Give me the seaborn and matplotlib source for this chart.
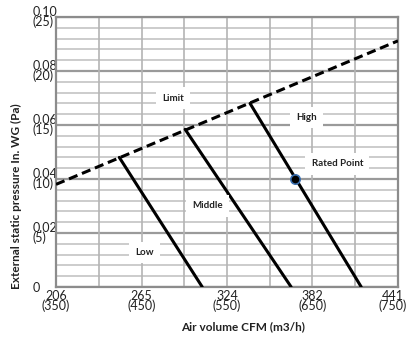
import matplotlib
matplotlib.use("Agg")
import matplotlib.pyplot as plt
import matplotlib.transforms as mtransforms
import seaborn as sns
import pandas as pd

# fan curves: air volume (m3/h) vs static pressure (Pa)
limit_flow = [350, 750]
limit_pa = [9.5, 22.8]
low_flow = [424, 521]
low_pa = [12.0, 0.0]
mid_flow = [501, 625]
mid_pa = [14.6, 0.0]
high_flow = [577, 707]
high_pa = [17.0, 0.0]
rated_flow = [630]
rated_pa = [10.0]

x_ticks = [350, 450, 550, 650, 750]
x_labels = ["206\n(350)", "265\n(450)", "324\n(550)", "382\n(650)", "441\n(750)"]
y_ticks = [0, 5, 10, 15, 20, 25]
y_labels = ["0", "0.02\n(5)", "0.04\n(10)", "0.06\n(15)", "0.08\n(20)", "0.10\n(25)"]

annotations = [
    ("Limit", 487, 17.5),
    ("High", 643, 15.7),
    ("Rated Point", 679, 11.4),
    ("Middle", 527, 7.5),
    ("Low", 453, 3.2),
]


def main():
    sns.set_style("white")
    plt.rcParams["font.family"] = ["Lato", "DejaVu Sans"]

    fig = plt.figure(figsize=(4.09, 3.49), dpi=100)
    ax = fig.add_axes([0.137, 0.178, 0.836, 0.773])

    # grid
    for y in range(0, 26):
        major = y % 5 == 0
        ax.axhline(y, color="#9a9a9a" if major else "#c4c4c4",
                   lw=1.6 if major else 1.2, zorder=0)
    for x in range(350, 751, 50):
        ax.axvline(x, color="#b4b4b4", lw=1.2, zorder=0)

    sns.lineplot(x=limit_flow, y=limit_pa, ax=ax, color="black", lw=2.2,
                 linestyle=(0, (3, 1.6)), sort=False, zorder=3)
    for fx, fy in [(low_flow, low_pa), (mid_flow, mid_pa), (high_flow, high_pa)]:
        df = pd.DataFrame({"flow": fx, "pa": fy})
        sns.lineplot(data=df, x="flow", y="pa", ax=ax, color="black", lw=2.2,
                     sort=False, zorder=3)

    sns.scatterplot(x=rated_flow, y=rated_pa, ax=ax, color="black", s=45,
                    edgecolor="#3a6fb0", linewidth=1.2, zorder=5)

    for text, x, y in annotations:
        ax.text(x, y, text, ha="center", va="center", fontsize=7,
                fontweight="bold", color="#222222", zorder=4,
                bbox=dict(facecolor="white", edgecolor="none", pad=4.5))

    ax.set_xlim(350, 750)
    ax.set_ylim(0, 25)
    ax.set_xticks(x_ticks)
    ax.set_xticklabels(x_labels, fontsize=9, linespacing=0.8, color="#222222")
    ax.set_yticks(y_ticks)
    ax.set_yticklabels(y_labels, fontsize=9, linespacing=0.8, color="#222222",
                       ha="left")
    ax.tick_params(axis="y", length=0, pad=17)
    ax.tick_params(axis="x", length=0, pad=2)

    # keep the last x label inside the picture
    last = ax.get_xticklabels()[-1]
    last.set_transform(last.get_transform() +
                       mtransforms.ScaledTranslation(-5 / 100, 0, fig.dpi_scale_trans))

    for side in ["left", "bottom", "top", "right"]:
        ax.spines[side].set_color("#8c8c8c")
        ax.spines[side].set_linewidth(1.6)

    ax.set_xlabel("Air volume CFM (m3/h)", fontsize=8.5, fontweight="bold",
                  color="#222222")
    ax.xaxis.set_label_coords(0.547, -0.126)
    ax.set_ylabel("External static pressure In. WG (Pa)", fontsize=8.5,
                  fontweight="bold", color="#222222")
    ax.yaxis.set_label_coords(-0.10, 0.335)

    fig.savefig("out.png", dpi=100)


if __name__ == "__main__":
    main()
